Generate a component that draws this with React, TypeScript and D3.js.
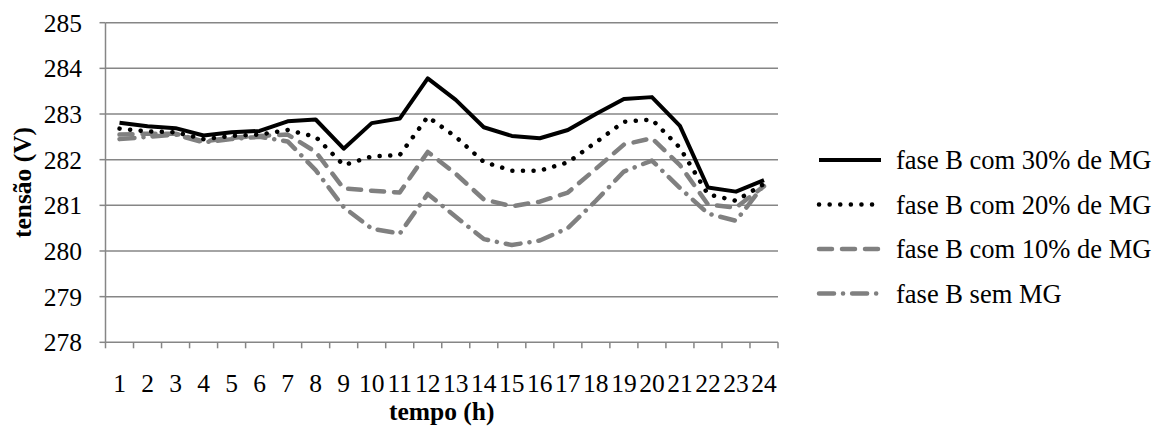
import React from "react";
import * as d3 from "d3";

const hours = ["1","2","3","4","5","6","7","8","9","10","11","12","13","14","15","16","17","18","19","20","21","22","23","24"];
const fase30 = [282.81, 282.73, 282.69, 282.53, 282.6, 282.63, 282.84, 282.88, 282.24, 282.8, 282.9, 283.78, 283.31, 282.71, 282.52, 282.47, 282.65, 283.0, 283.33, 283.37, 282.74, 281.39, 281.3, 281.55];
const fase20 = [282.68, 282.62, 282.6, 282.45, 282.52, 282.55, 282.65, 282.5, 281.88, 282.07, 282.1, 282.94, 282.5, 281.95, 281.76, 281.76, 281.94, 282.38, 282.83, 282.88, 282.26, 281.24, 281.1, 281.47];
const fase10 = [282.55, 282.57, 282.57, 282.4, 282.48, 282.52, 282.55, 282.17, 281.37, 281.32, 281.28, 282.17, 281.69, 281.13, 280.98, 281.08, 281.28, 281.8, 282.33, 282.47, 281.88, 281.02, 280.95, 281.42];
const semMG = [282.45, 282.5, 282.55, 282.38, 282.45, 282.5, 282.4, 281.77, 280.96, 280.49, 280.38, 281.25, 280.75, 280.26, 280.13, 280.23, 280.5, 281.1, 281.74, 281.98, 281.38, 280.82, 280.66, 281.45];
const yTicks = [278, 279, 280, 281, 282, 283, 284, 285];
const seriesNames = ["fase B com 30% de MG", "fase B com 20% de MG", "fase B com 10% de MG", "fase B sem MG"];

const W = 1165, H = 430;
const left = 105.5, right = 778, top = 22.7, bottom = 342.3;
const GRID = "#868686";
const FONT = "'Liberation Serif', 'Times New Roman', serif";

const styles = [
  { stroke: "#000000", width: 4, dash: null as string | null, cap: "butt" },
  { stroke: "#000000", width: 4.5, dash: "0.1 10.5", cap: "round" },
  { stroke: "#808080", width: 4.5, dash: "13 10", cap: "round" },
  { stroke: "#808080", width: 4.5, dash: "15 9 0.1 9", cap: "round" },
];

export default function App() {
  const x = d3.scaleBand<string>().domain(hours).range([left, right]);
  const y = d3.scaleLinear().domain([278, 285]).range([bottom, top]);
  const cx = (h: string) => (x(h) as number) + x.bandwidth() / 2;
  const line = d3.line<number>().x((_, i) => cx(hours[i])).y((v) => y(v));
  const data = [fase30, fase20, fase10, semMG];
  const legendY = [160, 204.5, 249, 293.5];

  return (
    <svg width={W} height={H} style={{ position: "absolute", left: 0, top: 0, background: "#fff" }} fontFamily={FONT}>
      {yTicks.map((t) => (
        <g key={t}>
          {t !== 278 && <line x1={left} x2={right} y1={y(t)} y2={y(t)} stroke={GRID} strokeWidth={1.5} />}
          <line x1={left - 6} x2={left} y1={y(t)} y2={y(t)} stroke={GRID} strokeWidth={1.5} />
          <text x={82} y={y(t)} dy="0.35em" textAnchor="end" fontSize={25.5} fill="#000">{t}</text>
        </g>
      ))}
      <line x1={left} x2={left} y1={top} y2={bottom} stroke={GRID} strokeWidth={1.5} />
      <line x1={left} x2={right} y1={bottom} y2={bottom} stroke={GRID} strokeWidth={1.5} />
      {hours.map((h) => (
        <line key={"tk" + h} x1={x(h) as number} x2={x(h) as number} y1={bottom} y2={bottom + 6} stroke={GRID} strokeWidth={1.5} />
      ))}
      <line x1={right} x2={right} y1={bottom} y2={bottom + 6} stroke={GRID} strokeWidth={1.5} />
      {hours.map((h) => (
        <text key={"xl" + h} x={cx(h)} y={383} dy="0.35em" textAnchor="middle" fontSize={25.5} fill="#000">{h}</text>
      ))}
      <text transform={`translate(22,${(top + bottom) / 2}) rotate(-90)`} textAnchor="middle" dy="0.35em" fontSize={25.5} fontWeight="bold">tensão (V)</text>
      <text x={(left + right) / 2} y={411} dy="0.35em" textAnchor="middle" fontSize={25.5} fontWeight="bold">tempo (h)</text>

      {[3, 2, 1, 0].map((k) => (
        <path key={"s" + k} d={line(data[k]) || ""} fill="none" stroke={styles[k].stroke} strokeWidth={styles[k].width}
          strokeDasharray={styles[k].dash || undefined} strokeLinecap={styles[k].cap as any} strokeLinejoin="round" />
      ))}

      {seriesNames.map((n, k) => (
        <g key={"lg" + k}>
          <line x1={819} x2={881} y1={legendY[k]} y2={legendY[k]} stroke={styles[k].stroke} strokeWidth={styles[k].width}
            strokeDasharray={styles[k].dash || undefined} strokeLinecap={styles[k].cap as any} />
          <text x={896} y={legendY[k]} dy="0.35em" fontSize={26.5} fill="#000">{n}</text>
        </g>
      ))}
    </svg>
  );
}
